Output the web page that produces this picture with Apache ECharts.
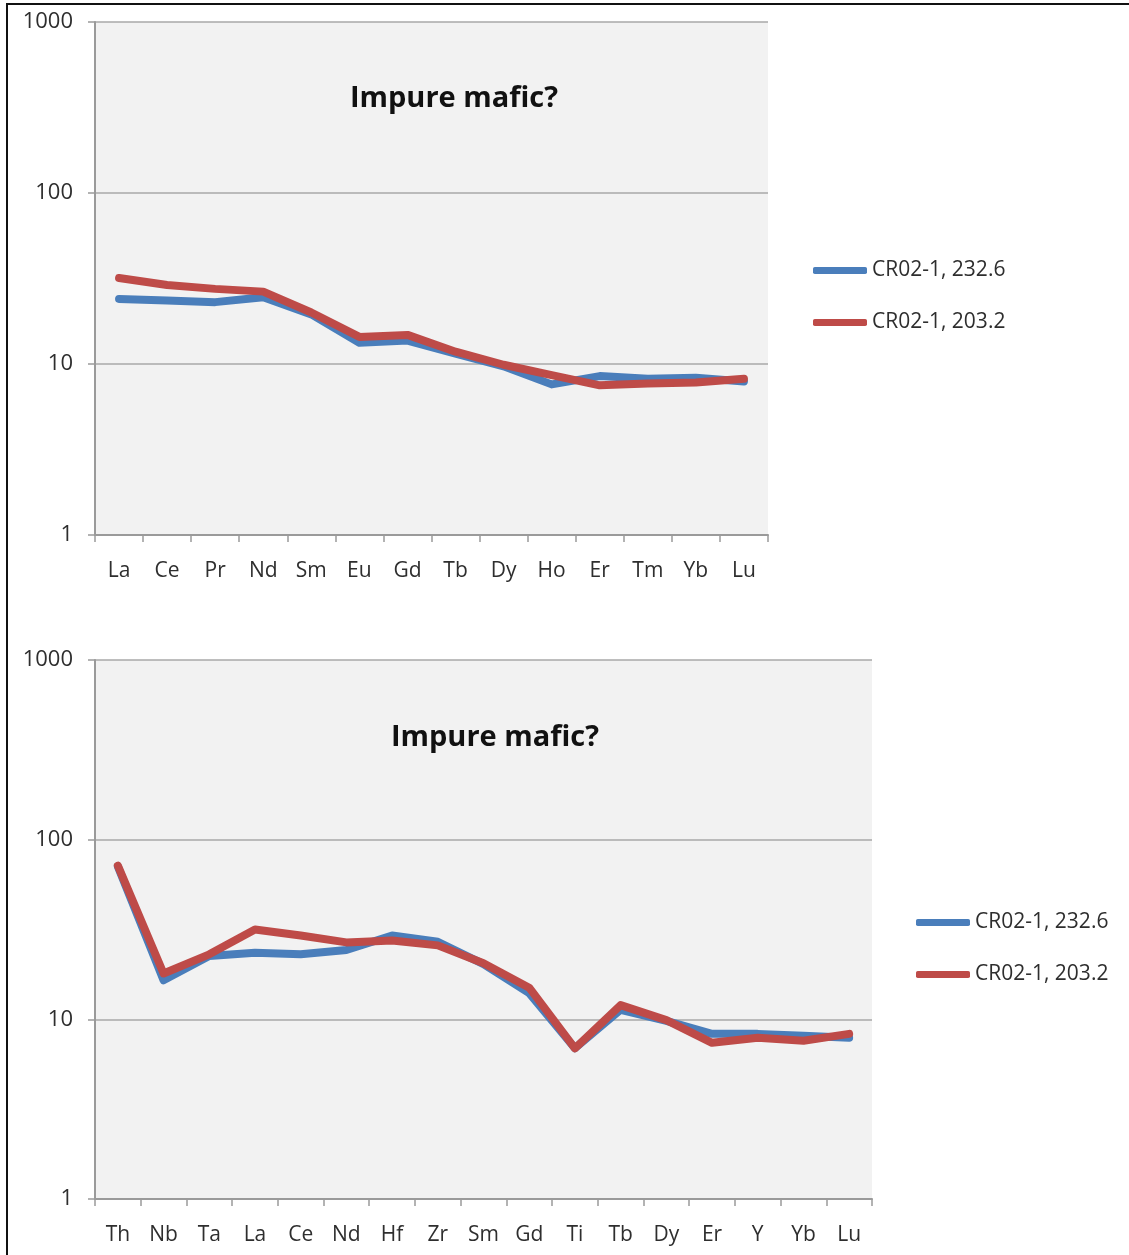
<!DOCTYPE html>
<html>
<head>
<meta charset="utf-8">
<script src="https://cdn.jsdelivr.net/npm/echarts@6/dist/echarts.min.js"></script>
<style>
html,body{margin:0;padding:0;background:#fff;}
#c{width:1129px;height:1255px;}
</style>
</head>
<body>
<div id="c"></div>
<script>
var titleText = 'Impure mafic?';
var seriesNames = ['CR02-1, 232.6', 'CR02-1, 203.2'];
var yTicks = [1, 10, 100, 1000];

var reeCats = ['La','Ce','Pr','Nd','Sm','Eu','Gd','Tb','Dy','Ho','Er','Tm','Yb','Lu'];
var reeA = [24, 23.5, 23, 24.6, 19.5, 13.3, 13.7, 11.5, 9.7, 7.6, 8.5, 8.2, 8.3, 7.9];
var reeB = [31.8, 29, 27.5, 26.5, 20, 14.4, 14.8, 11.8, 9.9, 8.6, 7.5, 7.7, 7.8, 8.2];

var spiderCats = ['Th','Nb','Ta','La','Ce','Nd','Hf','Zr','Sm','Gd','Ti','Tb','Dy','Er','Y','Yb','Lu'];
var spiderA = [71, 16.5, 22.5, 23.5, 23, 24.3, 29.3, 27, 20.3, 14, 6.9, 11.3, 9.8, 8.3, 8.3, 8.1, 7.9];
var spiderB = [71.7, 18, 23, 31.6, 29.3, 26.8, 27.5, 25.8, 20.5, 15, 6.9, 12, 9.9, 7.4, 7.9, 7.6, 8.3];

var blue = '#4a7ebb';
var red = '#be4b48';
var font = 'Open Sans';
var textColor = '#2e2e2e';

function xAxisFor(cats, idx) {
  return {
    type: 'category', gridIndex: idx, data: cats, boundaryGap: true,
    axisLine: {show: true, lineStyle: {color: '#9a9a9a', width: 2}},
    axisTick: {show: true, length: 7, lineStyle: {color: '#9a9a9a', width: 1.5}},
    axisLabel: {color: textColor, fontSize: 21, fontFamily: font, margin: 26}
  };
}
function yAxisFor(idx) {
  return {
    type: 'log', logBase: 10, gridIndex: idx, min: 1, max: 1000,
    axisLine: {show: true, lineStyle: {color: '#9a9a9a', width: 2}},
    axisTick: {show: true, length: 7, lineStyle: {color: '#9a9a9a', width: 1.5}},
    minorTick: {show: false},
    splitLine: {show: true, lineStyle: {color: '#a8a8a8', width: 1.5}},
    axisLabel: {color: textColor, fontSize: 22, fontFamily: font, margin: 22,
      formatter: function (v) { return yTicks.indexOf(Math.round(v)) >= 0 ? String(Math.round(v)) : ''; }}
  };
}
function lineSeries(name, data, color, idx) {
  return {
    type: 'line', name: name, data: data, xAxisIndex: idx, yAxisIndex: idx,
    showSymbol: false, symbol: 'none', smooth: false,
    lineStyle: {color: color, width: 8, cap: 'round', join: 'round'},
    itemStyle: {color: color},
    animation: false
  };
}
function legendFor(left, top) {
  return {data: seriesNames, orient: 'vertical', left: left, top: top, itemGap: 31,
    icon: 'roundRect', itemWidth: 54, itemHeight: 7,
    textStyle: {fontSize: 21, color: textColor, fontFamily: font}};
}

var chart = echarts.init(document.getElementById('c'));
chart.setOption({
  backgroundColor: '#fff',
  animation: false,
  grid: [
    {left: 95, top: 22, width: 673, height: 513, show: true, backgroundColor: '#f2f2f2', borderWidth: 0},
    {left: 95, top: 660, width: 777, height: 539, show: true, backgroundColor: '#f2f2f2', borderWidth: 0}
  ],
  title: [
    {text: titleText, left: 449, top: 79, textAlign: 'center',
      textStyle: {fontSize: 29, fontWeight: 'bold', color: '#111', fontFamily: font}},
    {text: titleText, left: 490, top: 718, textAlign: 'center',
      textStyle: {fontSize: 29, fontWeight: 'bold', color: '#111', fontFamily: font}}
  ],
  legend: [legendFor(808, 255), legendFor(911, 907)],
  xAxis: [xAxisFor(reeCats, 0), xAxisFor(spiderCats, 1)],
  yAxis: [yAxisFor(0), yAxisFor(1)],
  series: [
    lineSeries(seriesNames[0], reeA, blue, 0),
    lineSeries(seriesNames[1], reeB, red, 0),
    lineSeries(seriesNames[0], spiderA, blue, 1),
    lineSeries(seriesNames[1], spiderB, red, 1)
  ],
  graphic: [
    {type: 'rect', silent: true, z: 100,
      shape: {x: 7, y: 4, width: 1140, height: 1270},
      style: {fill: 'none', stroke: '#111', lineWidth: 2}}
  ]
});
</script>
</body>
</html>
